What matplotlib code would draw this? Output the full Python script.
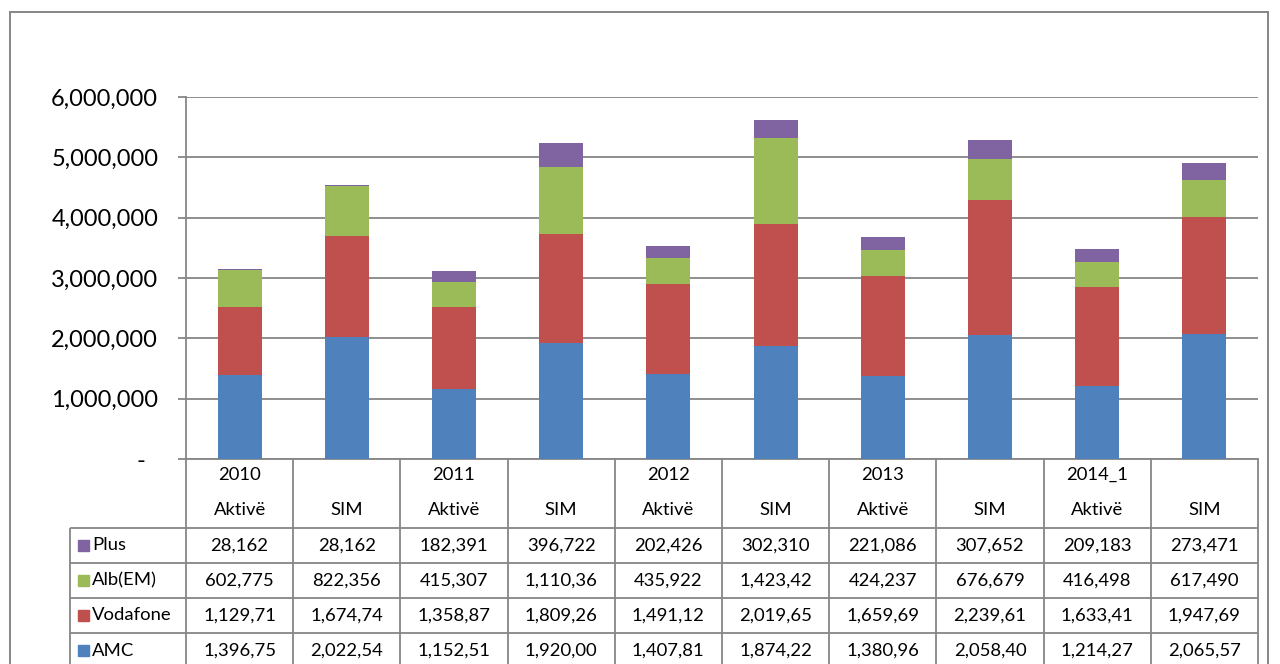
import numpy as np
import matplotlib.pyplot as plt
from matplotlib.patches import Rectangle

plt.rcParams['font.family'] = ['Lato', 'DejaVu Sans']

#####################################
years = ['2010', '', '2011', '', '2012', '', '2013', '', '2014_1', '']
kinds = ['Aktivë', 'SIM'] * 5
series = ['AMC', 'Vodafone', 'Alb(EM)', 'Plus']
amc = [1396750, 2022540, 1152510, 1920000, 1407810, 1874220, 1380960, 2058400, 1214270, 2065570]
vodafone = [1129710, 1674740, 1358870, 1809260, 1491120, 2019650, 1659690, 2239610, 1633410, 1947690]
alb = [602775, 822356, 415307, 1110360, 435922, 1423420, 424237, 676679, 416498, 617490]
plus = [28162, 28162, 182391, 396722, 202426, 302310, 221086, 307652, 209183, 273471]
colors = ['#4F81BD', '#C0504D', '#9BBB59', '#8064A2']
#####################################

W, H = 1280, 664
GRID = '#868686'

def box(x0, y0, x1, y1):
    # pixel box (top-left origin) -> figure fraction rect
    return [x0 / W, 1 - y1 / H, (x1 - x0) / W, (y1 - y0) / H]

fig = plt.figure(figsize=(W / 100, H / 100), dpi=100)

# outer chart frame
fig.patches.append(Rectangle((10 / W, -0.1), 1258 / W, 1.1 - 12 / H, transform=fig.transFigure,
                             fill=False, edgecolor=GRID, lw=1.4))

ax = fig.add_axes(box(186, 97, 1258, 459))
x = np.arange(len(kinds))
data = [amc, vodafone, alb, plus]
bottom = np.zeros(len(kinds))
for vals, col, name in zip(data, colors, series):
    ax.bar(x, vals, width=0.41, bottom=bottom, color=col, label=name, zorder=3)
    bottom += np.array(vals)

ax.set_xlim(-0.5, 9.5)
ax.set_ylim(0, 6e6)
ticks = np.arange(0, 6e6 + 1, 1e6)
ax.set_yticks(ticks)
ax.set_yticklabels(['-  '] + [f'{int(t):,}' for t in ticks[1:]])
ax.tick_params(axis='y', length=6, color=GRID, width=1.3, labelsize=17, pad=14)
ax.set_xticks([])
ax.grid(axis='y', color=GRID, lw=1.3, zorder=0)
for s in ['top', 'right']:
    ax.spines[s].set_visible(False)
ax.spines['left'].set_color(GRID)
ax.spines['bottom'].set_color(GRID)
ax.spines['left'].set_linewidth(1.3)
ax.spines['bottom'].set_linewidth(1.3)

# data table below the plot
colw = 107.2
xl = -0.5 - 116 / colw
ax_t = fig.add_axes(box(70, 459, 1258, 664))
ax_t.set_xlim(xl, 9.5)
ax_t.set_ylim(205, 0)
ax_t.axis('off')

xb = np.arange(-0.5, 10.5, 1)
bottom_y = 240
ax_t.vlines(xb, 0, bottom_y, color=GRID, lw=1.3, clip_on=False)
ax_t.vlines([xl], 69, bottom_y, color=GRID, lw=1.3, clip_on=False)
row_top = [69, 104, 139, 174, 209]
ax_t.hlines(row_top, xl, 9.5, color=GRID, lw=1.3, clip_on=False)

fs = 13.3
for i in range(len(kinds)):
    if years[i]:
        ax_t.text(x[i], 16, years[i], ha='center', va='center', fontsize=fs)
    ax_t.text(x[i], 51, kinds[i], ha='center', va='center', fontsize=fs)

rows = list(zip(series, data, colors))[::-1]
for r, (name, vals, col) in enumerate(rows):
    yc = row_top[r] + 17.5
    ax_t.add_patch(Rectangle((xl + 8 / colw, yc - 5.5), 11 / colw, 11, color=col, clip_on=False))
    ax_t.text(xl + 22 / colw, yc, name, ha='left', va='center', fontsize=fs)
    for i, v in enumerate(vals):
        ax_t.text(x[i], yc, f'{v:,}'[:8], ha='center', va='center', fontsize=fs)

fig.savefig('out.png', dpi=100)
